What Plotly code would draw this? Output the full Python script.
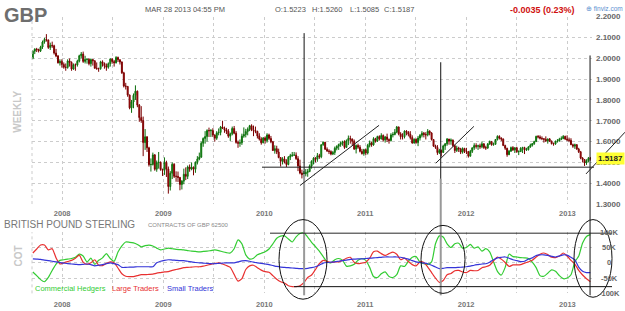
import plotly.graph_objects as go
import pandas as pd

# ---------------- DATA ----------------
first_open = 2.000
closes = [
    # 2007
    2.034, 2.044, 2.042, 2.036, 2.054, 2.078, 2.090, 2.088, 2.052, 2.062, 2.060, 2.025, 2.011, 1.978, 1.985, 1.970,
    # 2008
    1.957, 1.956, 1.987, 1.980, 1.948, 1.969, 1.968, 1.986, 2.012, 2.020, 1.985, 1.994, 1.995, 1.974, 1.994, 1.988,
    1.952, 1.950, 1.950, 1.983, 1.975, 1.964, 1.957, 1.974, 1.996, 1.984, 1.978, 2.004, 1.993, 1.982, 1.930, 1.867,
    1.865, 1.824, 1.762, 1.790, 1.822, 1.842, 1.775, 1.715, 1.701, 1.595, 1.623, 1.570, 1.489, 1.490, 1.536, 1.467,
    1.500, 1.501, 1.466, 1.462,
    # 2009
    1.500, 1.468, 1.384, 1.448, 1.491, 1.433, 1.433, 1.428, 1.394, 1.410, 1.443, 1.433, 1.478, 1.468, 1.477, 1.467,
    1.500, 1.516, 1.525, 1.592, 1.615, 1.624, 1.653, 1.652, 1.653, 1.631, 1.616, 1.642, 1.644, 1.670, 1.664, 1.656,
    1.650, 1.626, 1.637, 1.663, 1.640, 1.596, 1.592, 1.594, 1.626, 1.634, 1.648, 1.659, 1.676, 1.656, 1.653, 1.649,
    1.627, 1.612, 1.594, 1.617,
    # 2010
    1.605, 1.632, 1.615, 1.599, 1.557, 1.566, 1.550, 1.523, 1.505, 1.517, 1.501, 1.490, 1.525, 1.532, 1.535, 1.535,
    1.518, 1.483, 1.449, 1.441, 1.445, 1.452, 1.456, 1.483, 1.506, 1.520, 1.515, 1.532, 1.527, 1.585, 1.597, 1.563,
    1.555, 1.552, 1.540, 1.548, 1.568, 1.577, 1.586, 1.594, 1.600, 1.572, 1.604, 1.615, 1.612, 1.602, 1.564, 1.581,
    1.573, 1.553, 1.542, 1.561,
    # 2011
    1.545, 1.582, 1.594, 1.584, 1.614, 1.602, 1.624, 1.613, 1.629, 1.608, 1.622, 1.610, 1.605, 1.632, 1.634, 1.645,
    1.670, 1.637, 1.623, 1.623, 1.650, 1.645, 1.635, 1.619, 1.593, 1.611, 1.595, 1.617, 1.630, 1.640, 1.634, 1.632,
    1.650, 1.641, 1.610, 1.578, 1.572, 1.547, 1.557, 1.548, 1.579, 1.589, 1.612, 1.602, 1.607, 1.580, 1.557, 1.569,
    1.565, 1.549, 1.567, 1.554,
    # 2012
    1.551, 1.530, 1.553, 1.570, 1.581, 1.577, 1.580, 1.575, 1.589, 1.571, 1.569, 1.588, 1.600, 1.585, 1.587, 1.610,
    1.625, 1.617, 1.612, 1.581, 1.568, 1.537, 1.554, 1.571, 1.560, 1.570, 1.551, 1.552, 1.568, 1.571, 1.560, 1.561,
    1.574, 1.582, 1.590, 1.600, 1.625, 1.622, 1.616, 1.614, 1.611, 1.603, 1.612, 1.602, 1.590, 1.588, 1.601, 1.603,
    1.611, 1.614, 1.625, 1.612, 1.608,
    # 2013
    1.606, 1.585, 1.578, 1.585, 1.564, 1.551, 1.521, 1.514, 1.497, 1.508, 1.519, 1.5187,
]
highs = [
    2.037, 2.048, 2.050, 2.046, 2.060, 2.085, 2.098, 2.116, 2.090, 2.075, 2.080, 2.065, 2.045, 2.016, 1.995, 1.995,
    1.980, 1.975, 1.995, 1.999, 1.985, 1.975, 1.975, 1.993, 2.017, 2.030, 2.032, 2.012, 1.999, 2.000, 1.999, 1.996,
    1.990, 1.980, 1.955, 1.988, 1.990, 1.980, 1.975, 1.980, 2.000, 2.000, 1.992, 2.010, 2.008, 1.995, 1.985, 1.935,
    1.882, 1.866, 1.825, 1.800, 1.831, 1.870, 1.845, 1.780, 1.770, 1.720, 1.660, 1.625, 1.575, 1.519, 1.547, 1.540,
    1.509, 1.550, 1.504, 1.470,
    1.524, 1.508, 1.480, 1.458, 1.500, 1.496, 1.457, 1.456, 1.430, 1.415, 1.470, 1.476, 1.485, 1.490, 1.500, 1.480,
    1.505, 1.530, 1.547, 1.600, 1.620, 1.650, 1.659, 1.667, 1.660, 1.664, 1.635, 1.650, 1.663, 1.675, 1.700, 1.672,
    1.666, 1.660, 1.643, 1.672, 1.675, 1.650, 1.605, 1.610, 1.638, 1.668, 1.661, 1.668, 1.680, 1.683, 1.677, 1.672,
    1.652, 1.640, 1.621, 1.622,
    1.625, 1.640, 1.638, 1.627, 1.603, 1.582, 1.580, 1.566, 1.525, 1.525, 1.530, 1.515, 1.530, 1.541, 1.550, 1.550,
    1.548, 1.530, 1.513, 1.465, 1.458, 1.468, 1.468, 1.490, 1.510, 1.525, 1.525, 1.545, 1.541, 1.586, 1.600, 1.598,
    1.572, 1.563, 1.558, 1.555, 1.576, 1.582, 1.590, 1.600, 1.604, 1.606, 1.610, 1.629, 1.628, 1.615, 1.610, 1.586,
    1.590, 1.583, 1.565, 1.565,
    1.567, 1.589, 1.605, 1.600, 1.621, 1.618, 1.628, 1.630, 1.640, 1.634, 1.627, 1.638, 1.615, 1.640, 1.645, 1.660,
    1.675, 1.672, 1.645, 1.640, 1.654, 1.655, 1.650, 1.650, 1.630, 1.615, 1.615, 1.627, 1.636, 1.650, 1.646, 1.645,
    1.660, 1.654, 1.645, 1.612, 1.585, 1.583, 1.565, 1.562, 1.585, 1.593, 1.617, 1.613, 1.615, 1.610, 1.585, 1.580,
    1.575, 1.570, 1.572, 1.570,
    1.570, 1.555, 1.560, 1.572, 1.592, 1.592, 1.585, 1.590, 1.600, 1.592, 1.580, 1.593, 1.605, 1.603, 1.595, 1.612,
    1.630, 1.630, 1.620, 1.615, 1.585, 1.570, 1.560, 1.576, 1.578, 1.573, 1.575, 1.558, 1.573, 1.575, 1.575, 1.570,
    1.578, 1.590, 1.593, 1.604, 1.628, 1.631, 1.630, 1.625, 1.615, 1.625, 1.615, 1.617, 1.605, 1.595, 1.605, 1.612,
    1.618, 1.625, 1.631, 1.628, 1.630,
    1.619, 1.616, 1.590, 1.590, 1.588, 1.570, 1.555, 1.525, 1.515, 1.515, 1.526, 1.526,
]
lows = [
    1.995, 2.020, 2.030, 2.028, 2.030, 2.045, 2.070, 2.080, 2.045, 2.040, 2.050, 2.018, 2.005, 1.975, 1.965, 1.955,
    1.950, 1.940, 1.950, 1.960, 1.940, 1.945, 1.940, 1.960, 1.980, 2.000, 1.978, 1.975, 1.974, 1.966, 1.960, 1.965,
    1.950, 1.945, 1.935, 1.945, 1.960, 1.950, 1.940, 1.950, 1.960, 1.974, 1.960, 1.975, 1.982, 1.970, 1.925, 1.860,
    1.850, 1.815, 1.755, 1.738, 1.760, 1.800, 1.765, 1.695, 1.690, 1.530, 1.560, 1.550, 1.480, 1.456, 1.485, 1.460,
    1.455, 1.470, 1.460, 1.435,
    1.440, 1.430, 1.350, 1.365, 1.420, 1.425, 1.407, 1.406, 1.366, 1.370, 1.395, 1.415, 1.420, 1.455, 1.462, 1.438,
    1.450, 1.490, 1.510, 1.522, 1.575, 1.590, 1.600, 1.622, 1.622, 1.622, 1.600, 1.608, 1.630, 1.630, 1.660, 1.642,
    1.636, 1.618, 1.603, 1.630, 1.635, 1.590, 1.570, 1.575, 1.584, 1.618, 1.620, 1.630, 1.650, 1.650, 1.626, 1.640,
    1.615, 1.605, 1.585, 1.592,
    1.590, 1.595, 1.607, 1.592, 1.555, 1.542, 1.540, 1.520, 1.480, 1.490, 1.495, 1.478, 1.486, 1.511, 1.527, 1.532,
    1.512, 1.458, 1.443, 1.423, 1.428, 1.433, 1.431, 1.453, 1.470, 1.490, 1.500, 1.503, 1.517, 1.520, 1.580, 1.560,
    1.550, 1.540, 1.534, 1.535, 1.536, 1.558, 1.560, 1.575, 1.580, 1.565, 1.570, 1.583, 1.590, 1.580, 1.560, 1.543,
    1.565, 1.548, 1.538, 1.532,
    1.535, 1.538, 1.572, 1.575, 1.580, 1.595, 1.598, 1.605, 1.610, 1.600, 1.595, 1.598, 1.590, 1.600, 1.620, 1.630,
    1.640, 1.630, 1.610, 1.610, 1.615, 1.630, 1.625, 1.610, 1.590, 1.590, 1.590, 1.578, 1.605, 1.620, 1.620, 1.610,
    1.625, 1.630, 1.605, 1.575, 1.565, 1.536, 1.540, 1.528, 1.546, 1.560, 1.580, 1.585, 1.585, 1.575, 1.545, 1.550,
    1.550, 1.540, 1.542, 1.545,
    1.540, 1.523, 1.528, 1.545, 1.560, 1.566, 1.560, 1.565, 1.568, 1.565, 1.560, 1.565, 1.585, 1.580, 1.580, 1.585,
    1.605, 1.610, 1.602, 1.578, 1.560, 1.527, 1.535, 1.550, 1.555, 1.545, 1.546, 1.535, 1.550, 1.545, 1.540, 1.555,
    1.557, 1.570, 1.576, 1.584, 1.598, 1.615, 1.610, 1.607, 1.595, 1.598, 1.590, 1.598, 1.586, 1.580, 1.585, 1.595,
    1.600, 1.607, 1.612, 1.608, 1.602,
    1.597, 1.583, 1.570, 1.565, 1.560, 1.545, 1.515, 1.500, 1.483, 1.488, 1.500, 1.5085,
]

# COT net positions, thousands of contracts (every two weeks)
commercial = [
    -30, -42, -55, -62, -48, -25, -4, 8, 10, 12,
    14, 18, 28, 22, 3, 15, -5, 8, 16, 30,
    14, 5, 35, 55, 68, 67, 65, 60, 52, 56,
    58, 55, 48, 42, 45, 48, 46, 44, 43, 42,
    40, 38, 37, 36, 37, 38, 40, 42, 40, 36,
    33, 32, 46, 75, 62, 26, 12, 15, 26, 31,
    36, 45, 62, 80, 87, 88, 78, 68, 85, 96,
    98, 84, 67, 53, 38, 20, 3, 0, 10, 14,
    8, -11, -10, -5, 8, 14, 8, -15, -45, -48,
    -36, -30, -45, -48, -39, -10, -12, 5, 18, 20,
    2, -3, -5, 3, 62, 88, 84, 62, 50, 62,
    64, 48, 50, 60, 48, 52, 38, 46, 36, 3,
    -28, -40, -15, 28, 20, 19, 17, 16, 14, 2,
    -16, -42, -44, -34, -23, -28, -42, -52, -50, -39,
    3, 22, 65, 86, 92,
]
large = [
    32, 45, 58, 58, 42, 46, 16, -4, 0, 4,
    8, 15, 25, 2, -5, 0, 10, -8, -9, -2,
    3, 0, -17, -36, -44, -45, -45, -42, -39, -39,
    -38, -37, -34, -32, -30, -29, -25, -22, -19, -16,
    -15, -14, -13, -13, -11, -8, -5, -2, 0, -4,
    -9, -15, -38, -60, -52, -22, -10, -8, -16, -24,
    -29, -31, -42, -54, -62, -66, -75, -78, -78, -75,
    -65, -48, -40, -22, -3, 8, 5, 1, 3, 3,
    8, 15, 18, 2, -3, -1, 2, 15, 36, 38,
    30, 24, 30, 35, 28, 10, 15, 4, -6, -10,
    3, 1, -14, -32, -50, -64, -58, -39, -35, -26,
    -25, -30, -32, -25, -26, -25, -16, -13, -8, 6,
    19, 12, 1, -12, -7, -7, -6, -1, 3, 8,
    19, 28, 32, 27, 18, 17, 22, 32, 22, 8,
    -4, -25, -40, -52, -62,
]
small = [
    13, 12, 11, 9, 7, 5, 3, 1, -1, -3,
    -4, -5, -6, -5, -4, -6, -10, -8, -6, -3,
    0, -3, -6, -15, -15, -14, -14, -13, -13, -13,
    -13, -13, 0, 5, 8, 10, 9, 8, 7, 7,
    5, 3, 1, 0, -1, -2, -3, -3, -2, -1,
    0, 0, 0, 3, 6, 7, 5, 2, 0, -2,
    -4, -6, -9, -12, -14, -15, -16, -17, -18, -19,
    -19, -18, -16, -13, -8, -1, 1, 2, 3, 5,
    7, 9, 11, 12, 13, 13, 14, 15, 16, 17,
    18, 19, 19, 19, 19, 18, 15, 12, 7, 3,
    1, -1, -3, -8, -14, -19, -18, -16, -16, -16,
    -15, -14, -13, -11, -8, -6, -4, -3, 2, 10,
    16, 18, 19, 15, 10, 7, 4, 5, 12, 16,
    24, 26, 26, 24, 21, 19, 22, 26, 25, 18,
    10, -14, -28, -32, -32,
]

year_ticks = ['2008-01-01', '2008-07-01', '2009-01-01', '2009-07-01', '2010-01-01', '2010-07-01',
              '2011-01-01', '2011-07-01', '2012-01-01', '2012-07-01', '2013-01-01']
year_labels = ['2008', '', '2009', '', '2010', '', '2011', '', '2012', '', '2013']
price_ticks = [1.3, 1.4, 1.5, 1.6, 1.7, 1.8, 1.9, 2.0, 2.1, 2.2]
cot_ticks = [100, 50, 0, -50, -100]
cot_labels = ['100K', '50K', '0', '-50K', '-100K']
last_close = 1.5187

week_dates = pd.date_range('2007-09-17', periods=len(closes), freq='7D')
cot_dates = pd.date_range('2007-09-17', periods=len(commercial), freq='14D')
opens = [first_open] + closes[:-1]

# ---------------- FIGURE ----------------
W, H = 625, 311
FONT = 'Liberation Sans, Arial, sans-serif'


def fx(p):
    return p / W


def fy(p):
    return 1 - p / H


fig = go.Figure()
fig.add_trace(go.Candlestick(
    x=week_dates, open=opens, high=highs, low=lows, close=closes,
    xaxis='x', yaxis='y',
    increasing=dict(line=dict(color='#0b6e0b', width=1), fillcolor='#22c022'),
    decreasing=dict(line=dict(color='#7a0000', width=1), fillcolor='#d01010'),
    whiskerwidth=0, hoverinfo='skip', showlegend=False,
))
for vals, col in [(commercial, '#33cc33'), (large, '#e83030'), (small, '#3535d8')]:
    fig.add_trace(go.Scatter(x=cot_dates, y=vals, mode='lines', xaxis='x2', yaxis='y2',
                             line=dict(color=col, width=1.2, shape='spline', smoothing=0.6),
                             hoverinfo='skip', showlegend=False))

X0, X1 = 32, 592
xr = ['2007-09-14', '2013-03-31']
grid = dict(showgrid=True, gridcolor='#cccccc', gridwidth=1, griddash='dot', zeroline=False,
            showline=False, ticks='')
fig.update_layout(
    width=W, height=H, margin=dict(l=0, r=0, t=0, b=0),
    paper_bgcolor='white', plot_bgcolor='white', showlegend=False,
    font=dict(family=FONT),
    xaxis=dict(domain=[fx(X0), fx(X1)], range=xr, type='date', anchor='y',
               tickvals=year_ticks, ticktext=year_labels, rangeslider=dict(visible=False),
               ticklabelstandoff=3,
               tickfont=dict(size=7.5, color='#777777', weight='bold'), **grid),
    yaxis=dict(domain=[fy(206), fy(13)], range=[1.3, 2.2], side='right', anchor='x',
               tickvals=price_ticks, ticktext=['%.4f' % v for v in price_ticks],
               tickfont=dict(size=8, color='#666666', weight='bold'), ticklabelstandoff=3, **grid),
    xaxis2=dict(domain=[fx(X0), fx(X1)], range=xr, type='date', anchor='y2',
                tickvals=year_ticks, ticktext=year_labels, ticklabelstandoff=5,
                tickfont=dict(size=7.5, color='#777777', weight='bold'), **grid),
    yaxis2=dict(domain=[fy(298), fy(235)], range=[-100, 100], side='right', anchor='x2',
                tickvals=cot_ticks, showticklabels=False, **grid),
)

shapes = []
# left frame lines (dotted)
shapes.append(dict(type='line', xref='paper', yref='paper', x0=fx(X0), x1=fx(X0), y0=fy(206), y1=fy(13),
                   line=dict(color='#cccccc', width=1, dash='dot')))
shapes.append(dict(type='line', xref='paper', yref='paper', x0=fx(X0), x1=fx(X0), y0=fy(298), y1=fy(235),
                   line=dict(color='#cccccc', width=1, dash='dot')))
# drawn vertical lines
shapes.append(dict(type='line', xref='x', yref='paper', x0='2010-05-25', x1='2010-05-25', y0=fy(300), y1=fy(175),
                   line=dict(color='#999999', width=2)))
shapes.append(dict(type='line', xref='x', yref='paper', x0='2010-05-25', x1='2010-05-25', y0=fy(175), y1=fy(30),
                   line=dict(color='#111111', width=1)))
shapes.append(dict(type='line', xref='x', yref='paper', x0='2011-10-01', x1='2011-10-01', y0=fy(300), y1=fy(180),
                   line=dict(color='#999999', width=2)))
shapes.append(dict(type='line', xref='x', yref='paper', x0='2011-10-01', x1='2011-10-01', y0=fy(180), y1=fy(60),
                   line=dict(color='#111111', width=1)))
shapes.append(dict(type='line', xref='x', yref='paper', x0='2013-03-24', x1='2013-03-24', y0=fy(300), y1=fy(53),
                   line=dict(color='#111111', width=1)))
# horizontal support line on price chart
shapes.append(dict(type='line', xref='paper', yref='y', x0=fx(262), x1=fx(594), y0=1.477, y1=1.477,
                   line=dict(color='#222222', width=1)))
# trend lines
shapes.append(dict(type='line', xref='x', yref='y', x0='2010-05-10', y0=1.389, x1='2011-02-20', y1=1.678,
                   line=dict(color='#222222', width=1)))
shapes.append(dict(type='line', xref='x', yref='y', x0='2011-09-13', y0=1.496, x1='2012-01-29', y1=1.673,
                   line=dict(color='#222222', width=1)))
shapes.append(dict(type='line', xref='paper', yref='paper', x0=fx(586), y0=fy(175), x1=1.0, y1=fy(132),
                   line=dict(color='#222222', width=1)))
# COT band lines
shapes.append(dict(type='line', xref='paper', yref='y2', x0=fx(270), x1=fx(612), y0=97, y1=97,
                   line=dict(color='#111111', width=1)))
shapes.append(dict(type='line', xref='paper', yref='y2', x0=fx(294), x1=fx(612), y0=-78, y1=-78,
                   line=dict(color='#111111', width=1)))
# ellipses
for (a, b, c, d) in [(279, 327, 222, 304), (421, 465, 228, 298), (574, 612, 222, 302)]:
    shapes.append(dict(type='circle', xref='paper', yref='paper', x0=fx(a), x1=fx(b), y0=fy(d), y1=fy(c),
                       line=dict(color='#111111', width=1)))
fig.update_layout(shapes=shapes)

ann = []


def txt(x, y, s, size, color, anchor='left', weight='normal', angle=0, yref='paper', yv=None):
    ann.append(dict(x=fx(x), y=(fy(y) if yv is None else yv), xref='paper', yref=yref, text=s,
                    showarrow=False, xanchor=anchor, yanchor='middle', textangle=angle,
                    font=dict(family=FONT, size=size, color=color, weight=weight)))


txt(2, 11, 'GBP', 20, '#6e6e6e', weight='bold')
txt(143, 6, 'MAR 28 2013 04:55 PM', 7.5, '#555555')
txt(273, 6, 'O:1.5223', 7.5, '#555555')
txt(310, 6, 'H:1.5260', 7.5, '#555555')
txt(348, 6, 'L:1.5085', 7.5, '#555555')
txt(382, 6, 'C:1.5187', 7.5, '#555555')
txt(508, 6, '-0.0035 (0.23%)', 9, '#d01010', weight='bold')
txt(584, 5, '⊕ finviz.com', 6.5, '#5b8fd0')
txt(18, 111, 'WEEKLY', 10, '#c8c8c8', anchor='center', weight='bold', angle=-90)
txt(18, 260, 'COT', 10, '#c8c8c8', anchor='center', weight='bold', angle=-90)
txt(2, 227, 'BRITISH POUND STERLING', 10, '#777777')
txt(146, 228, 'CONTRACTS OF GBP 62500', 6, '#888888')
txt(33, 293, 'Commercial Hedgers', 7.5, '#33cc33')
txt(110, 293, 'Large Traders', 7.5, '#e83030')
txt(165, 293, 'Small Traders', 7.5, '#3535d8')
for v, s in zip(cot_ticks, cot_labels):
    txt(609, 0, s, 7.5, '#666666', anchor='center', weight='bold', yref='y2', yv=v)
ann.append(dict(x=fx(596), y=last_close, xref='paper', yref='y', text='%.4f' % last_close,
                showarrow=False, xanchor='left', yanchor='middle', bgcolor='#ffff33', borderpad=1,
                font=dict(family=FONT, size=8, color='#222222', weight='bold')))
fig.update_layout(annotations=ann)

fig.write_html('out.html')
